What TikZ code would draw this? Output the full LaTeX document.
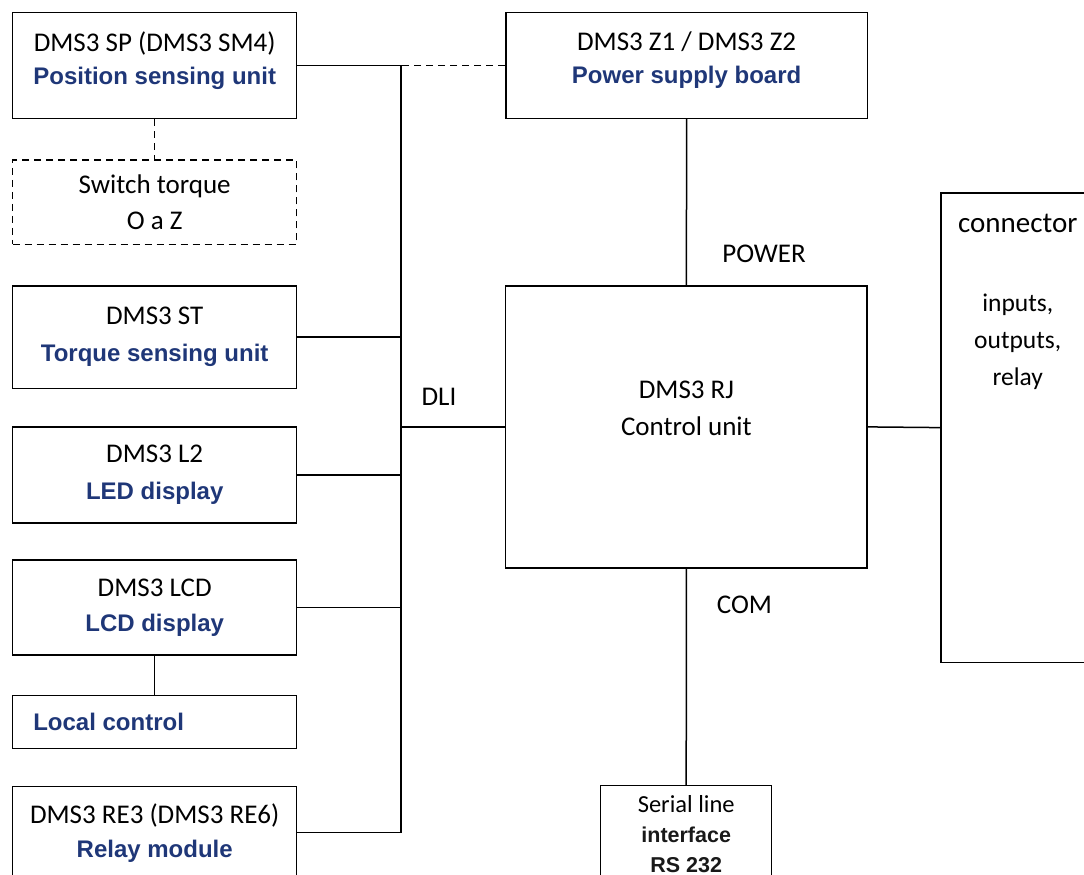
\documentclass[tikz,border=0pt]{standalone}
\usepackage{fontspec}
\setmainfont{Carlito}
\newfontfamily\arialfont{Liberation Sans}
\usepackage{xcolor}
\usetikzlibrary{positioning}

\definecolor{dmsblue}{RGB}{31,55,120}
\newcommand{\bluename}[1]{{\color{dmsblue}\arialfont\bfseries\fontsize{24}{37}\selectfont #1}}
\newcommand{\boldname}[1]{{\color{black!90}\arialfont\bfseries\fontsize{21.5}{30}\selectfont #1}}
\newcommand{\liftup}{\\[-18pt]\mbox{}}

\begin{document}
\begin{tikzpicture}[x=1pt, y=-1pt,
    box/.style={draw, line width=1.5pt, minimum width=284pt, align=center, inner sep=2pt,
                font=\fontsize{27}{37}\selectfont},
    wide/.style={box, minimum width=361.5pt},
    optbox/.style={box, dash pattern=on 7pt off 5pt},
    lbl/.style={font=\fontsize{27}{32}\selectfont, inner sep=0pt},
    wire/.style={line width=1.5pt},
    dwire/.style={wire, dash pattern=on 7pt off 5pt}
  ]
  \useasboundingbox (0,0) rectangle (1084,875);
  \clip (0,0) rectangle (1084,875);

  % left column
  \node[box, minimum height=106pt, font=\fontsize{27}{33}\selectfont] (sp) at (154.7,65.3) {DMS3 SP (DMS3 SM4)\\\bluename{Position sensing unit}\liftup};
  \node[optbox, minimum height=84.3pt, font=\fontsize{27}{36.7}\selectfont] (sw) at (154.7,202.2) {Switch torque\\O a Z};
  \node[box, minimum height=102.3pt] (st) at (154.7,337.2) {DMS3 ST\\\bluename{Torque sensing unit}};
  \node[box, minimum height=96pt] (l2) at (154.7,475) {DMS3 L2\\\bluename{LED display}};
  \node[box, minimum height=95pt, font=\fontsize{27}{35.5}\selectfont] (lcd) at (154.7,607.5) {DMS3 LCD\\\bluename{LCD display}};
  \node[box, minimum height=52.6pt, text width=242.8pt, align=flush left, inner xsep=20.6pt] (lc) at (154.7,722) {\bluename{Local control}};
  \node[box, minimum height=92pt, font=\fontsize{27}{34}\selectfont] (re3) at (154.7,832.7) {DMS3 RE3 (DMS3 RE6)\\\bluename{Relay module}};

  % right part
  \node[wide, minimum height=106pt, font=\fontsize{27}{33}\selectfont] (z1) at (686.6,65.3) {DMS3 Z1 / DMS3 Z2\\\bluename{Power supply board}\liftup};
  \node[wide, minimum height=281.7pt] (rj) at (686.4,426.9) {DMS3 RJ\\Control unit\\\mbox{}};
  \node[box, minimum width=171pt, minimum height=96pt, font=\fontsize{24.5}{30}\selectfont] (ser) at (686.2,833.7)
    {Serial line\\\boldname{interface}\\\boldname{RS 232}};
  \node[draw, line width=1.5pt, minimum width=154pt, minimum height=469.7pt, anchor=north west] (conn) at (940,192) {};
  \node[below=22pt of conn.north, align=center, inner sep=0pt, font=\fontsize{25.5}{37}\selectfont] (conntxt)
    {{\fontsize{29}{37}\selectfont connector}\\[42pt]inputs,\\outputs,\\relay};

  % DLI bus
  \coordinate (bustop) at (401,65.3);
  \coordinate (busbot) at (401,832.7);
  \coordinate (dashend) at (340,65.3);
  \draw[wire] (sp.east) -- (bustop) -- (busbot) -- (re3.east);
  \foreach \n in {st,l2,lcd}
    \draw[wire] (\n.east) -- (\n.east -| bustop);
  \draw[line width=2.5pt] (rj.west -| bustop) -- (rj.west);
  \draw[dwire] (z1.west) -- (dashend);
  \draw[dwire] (sp.south) -- (sw.north);
  \draw[wire] (lcd.south) -- (lc.north);

  \draw[wire] (z1.south) -- (rj.north);
  \draw[wire] (rj.south) -- (ser.north);
  \draw[wire] (rj.east) -- (conn.west);

  \node[lbl] (dli) at (439,396.5) {DLI};
  \node[lbl] (power) at (764,253.5) {POWER};
  \node[lbl] (com) at (744.5,604.5) {COM};
\end{tikzpicture}
\end{document}
